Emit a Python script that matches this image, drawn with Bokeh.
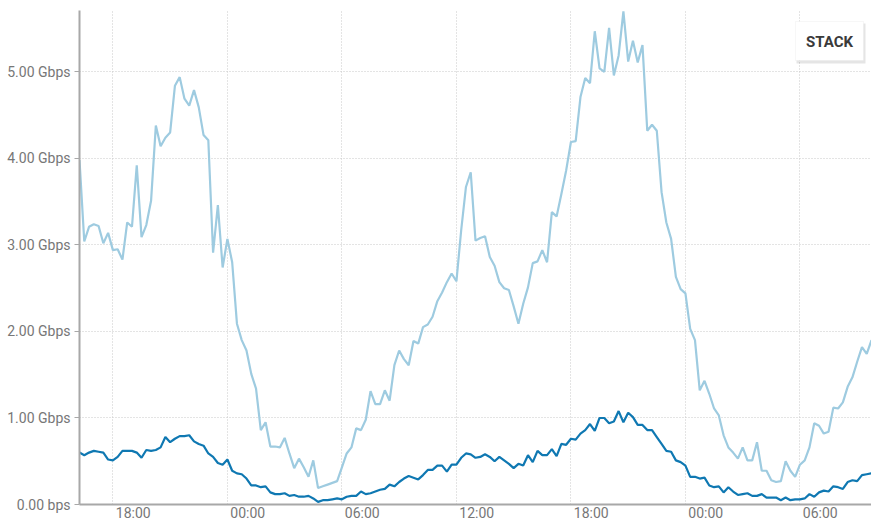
import pandas as pd
from bokeh.plotting import figure
from bokeh.models import (ColumnDataSource, FixedTicker, CustomJSTickFormatter,
                          BoxAnnotation, Label, Range1d)
from bokeh.embed import file_html
from bokeh.resources import INLINE

# ---- data (Gbps), one sample every 15 minutes ----
start_time = "2024-01-01 16:15"
step = "15min"

light_series = [3.98, 3.04, 3.21, 3.24, 3.22, 3.02, 3.14, 2.94, 2.95, 2.83,
                3.26, 3.21, 3.92, 3.09, 3.23, 3.51, 4.38, 4.14, 4.24, 4.30,
                4.84, 4.94, 4.69, 4.61, 4.79, 4.59, 4.27, 4.21, 2.91, 3.46,
                2.74, 3.07, 2.80, 2.09, 1.90, 1.78, 1.51, 1.34, 0.86, 0.95,
                0.67, 0.67, 0.66, 0.77, 0.59, 0.42, 0.53, 0.43, 0.32, 0.51,
                0.19, 0.21, 0.23, 0.25, 0.27, 0.43, 0.59, 0.66, 0.88, 0.86,
                0.98, 1.31, 1.16, 1.16, 1.32, 1.20, 1.61, 1.78, 1.68, 1.61,
                1.89, 1.86, 2.05, 2.08, 2.17, 2.35, 2.45, 2.57, 2.67, 2.58,
                3.17, 3.67, 3.84, 3.05, 3.08, 3.10, 2.86, 2.76, 2.57, 2.50,
                2.48, 2.29, 2.09, 2.32, 2.51, 2.79, 2.81, 2.94, 2.80, 3.38,
                3.33, 3.59, 3.86, 4.19, 4.20, 4.71, 4.93, 4.87, 5.47, 5.04,
                5.00, 5.51, 4.96, 5.19, 5.70, 5.12, 5.36, 5.11, 5.31, 4.32,
                4.39, 4.32, 3.61, 3.26, 3.07, 2.63, 2.49, 2.44, 2.03, 1.90,
                1.32, 1.43, 1.28, 1.11, 1.03, 0.80, 0.66, 0.60, 0.53, 0.66,
                0.51, 0.51, 0.72, 0.39, 0.39, 0.28, 0.26, 0.27, 0.50, 0.39,
                0.32, 0.46, 0.51, 0.66, 0.94, 0.91, 0.82, 0.84, 1.12, 1.11,
                1.18, 1.36, 1.47, 1.65, 1.82, 1.74, 1.90]

dark_series = [0.60, 0.57, 0.60, 0.62, 0.61, 0.60, 0.52, 0.51, 0.55, 0.62,
               0.62, 0.62, 0.60, 0.54, 0.63, 0.62, 0.63, 0.66, 0.78, 0.72,
               0.76, 0.79, 0.79, 0.80, 0.73, 0.70, 0.68, 0.59, 0.55, 0.48,
               0.46, 0.52, 0.39, 0.36, 0.35, 0.30, 0.22, 0.22, 0.20, 0.21,
               0.14, 0.12, 0.12, 0.13, 0.10, 0.11, 0.09, 0.09, 0.10, 0.07,
               0.03, 0.05, 0.05, 0.06, 0.07, 0.06, 0.09, 0.10, 0.10, 0.15,
               0.12, 0.13, 0.15, 0.17, 0.18, 0.23, 0.21, 0.26, 0.30, 0.33,
               0.31, 0.29, 0.34, 0.40, 0.40, 0.45, 0.45, 0.38, 0.46, 0.46,
               0.54, 0.59, 0.58, 0.54, 0.55, 0.58, 0.55, 0.50, 0.55, 0.51,
               0.47, 0.42, 0.47, 0.45, 0.57, 0.49, 0.62, 0.57, 0.57, 0.64,
               0.56, 0.70, 0.69, 0.76, 0.75, 0.82, 0.86, 0.93, 0.85, 1.00,
               1.00, 0.94, 0.96, 1.08, 0.95, 1.06, 1.01, 0.92, 0.92, 0.86,
               0.86, 0.78, 0.70, 0.62, 0.61, 0.51, 0.49, 0.45, 0.32, 0.32,
               0.30, 0.31, 0.22, 0.20, 0.21, 0.14, 0.20, 0.15, 0.11, 0.12,
               0.13, 0.10, 0.10, 0.12, 0.08, 0.08, 0.08, 0.05, 0.08, 0.05,
               0.06, 0.06, 0.07, 0.12, 0.09, 0.14, 0.16, 0.15, 0.21, 0.20,
               0.18, 0.26, 0.28, 0.27, 0.34, 0.35, 0.36]

y_ticks = [0, 1, 2, 3, 4, 5]
x_tick_times = pd.date_range("2024-01-01 18:00", periods=7, freq="6h")
button_text = "STACK"

# ---- build ----
times = pd.date_range(start_time, periods=len(light_series), freq=step)
src = ColumnDataSource(dict(t=times, light=light_series, dark=dark_series))

t0 = times[0]
t1 = times[-1]
y_max = 5.71

p = figure(width=871, height=524, x_axis_type="datetime",
           x_range=Range1d(t0, t1), y_range=Range1d(0, y_max),
           output_backend="svg", toolbar_location=None,
           min_border_left=79, min_border_right=0, min_border_top=10,
           min_border_bottom=20)
p.outline_line_color = None
p.background_fill_color = "white"
p.border_fill_color = "white"

p.line("t", "light", source=src, line_color="#9ecbe0", line_width=2.2)
p.line("t", "dark", source=src, line_color="#0f78b2", line_width=2.2)

# axes
p.yaxis.ticker = FixedTicker(ticks=y_ticks)
p.yaxis.formatter = CustomJSTickFormatter(
    code="return tick === 0 ? '0.00 bps' : tick.toFixed(2) + ' Gbps';")

# the labels sit just right of their gridline: place label ticks a little
# later than the gridlines and format them back to the real hour
tick_ms = [t.value // 10**6 for t in x_tick_times]
label_shift_ms = 64 * 60 * 1000
p.xaxis.ticker = FixedTicker(ticks=[t + label_shift_ms for t in tick_ms])
p.xgrid.ticker = FixedTicker(ticks=tick_ms)
p.xaxis.formatter = CustomJSTickFormatter(args=dict(shift=label_shift_ms), code="""
    const d = new Date(tick - shift);
    const h = String(d.getUTCHours()).padStart(2, '0');
    const m = String(d.getUTCMinutes()).padStart(2, '0');
    return h + ':' + m;
""")

for ax in (p.xaxis[0], p.yaxis[0]):
    ax.axis_line_color = "#a8a8a8"
    ax.axis_line_width = 2
    ax.major_label_text_font = "Roboto"
    ax.major_label_text_font_size = "14px"
    ax.major_label_text_color = "#777777"
    ax.minor_tick_line_color = None
    ax.major_tick_line_color = "#a8a8a8"

p.yaxis.major_tick_out = 5
p.yaxis.major_tick_in = 0
p.yaxis.major_label_standoff = 4
p.xaxis.major_tick_out = 0
p.xaxis.major_tick_in = 0
p.xaxis.major_label_standoff = 0

p.grid.grid_line_color = "#c8c8c8"
p.grid.grid_line_dash = "1 2"
p.grid.grid_line_width = 1

# ---- STACK button (annotation) ----
frame_left_px, frame_right_px, frame_top_px, frame_bottom_px = 79, 871, 10, 504
t0_ms = t0.value / 1e6
t1_ms = t1.value / 1e6


def px_x(px):
    return t0_ms + (px - frame_left_px) / (frame_right_px - frame_left_px) * (t1_ms - t0_ms)


def px_y(py):
    return (frame_bottom_px - py) / (frame_bottom_px - frame_top_px) * y_max


p.add_layout(BoxAnnotation(left=px_x(796), right=px_x(865), top=px_y(23), bottom=px_y(63),
                           fill_color="#000000", fill_alpha=0.10, line_color=None))
p.add_layout(BoxAnnotation(left=px_x(795), right=px_x(863), top=px_y(21), bottom=px_y(60),
                           fill_color="#ffffff", fill_alpha=1.0,
                           line_color="#e4e4e4", line_width=1))
p.add_layout(Label(x=px_x(829), y=px_y(41), text=button_text,
                   text_align="center", text_baseline="middle",
                   text_font="Roboto", text_font_style="bold",
                   text_font_size="15px", text_color="#3a3a3a"))

open("out.html", "w").write(file_html(p, INLINE))
